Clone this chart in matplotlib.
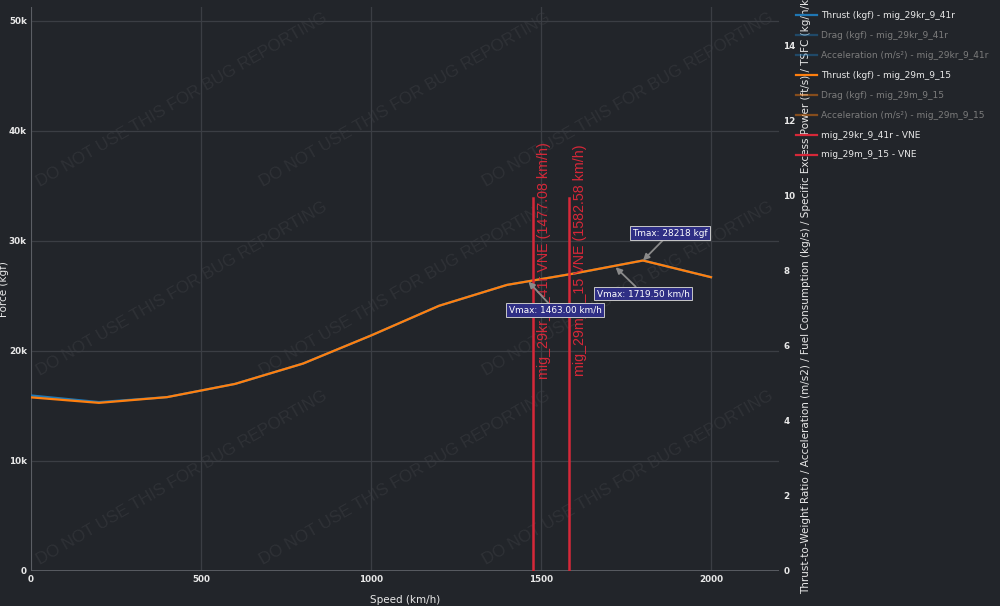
import matplotlib
matplotlib.use("Agg")
import matplotlib.pyplot as plt
from matplotlib.lines import Line2D

# ---------------- data ----------------
speed = [0, 200, 400, 600, 800, 1000, 1200, 1400, 1600, 1800, 2000]
thrust_29kr = [15950, 15350, 15800, 17000, 18850, 21400, 24100, 26000, 27050, 28218, 26700]
thrust_29m = [15780, 15280, 15800, 17000, 18850, 21400, 24100, 26000, 27050, 28218, 26700]

vne_names = ["mig_29kr_9_41r", "mig_29m_9_15"]
vne_speeds = [1477.08, 1582.58]

vmax_speeds = [1463.00, 1719.50]
vmax_thrust = [26300, 27600]
tmax_speed = 1800
tmax_value = 28218

legend_labels = [
    "Thrust (kgf) - mig_29kr_9_41r",
    "Drag (kgf) - mig_29kr_9_41r",
    "Acceleration (m/s²) - mig_29kr_9_41r",
    "Thrust (kgf) - mig_29m_9_15",
    "Drag (kgf) - mig_29m_9_15",
    "Acceleration (m/s²) - mig_29m_9_15",
    "mig_29kr_9_41r - VNE",
    "mig_29m_9_15 - VNE",
]
legend_visible = [True, False, False, True, False, False, True, True]

x_ticks = [0, 500, 1000, 1500, 2000]
y_ticks = [0, 10000, 20000, 30000, 40000, 50000]
y_ticklabels = ["0", "10k", "20k", "30k", "40k", "50k"]
y2_ticks = [0, 2, 4, 6, 8, 10, 12, 14]

# ---------------- style ----------------
BG = "#22252a"
GRID = "#3b3e44"
ZERO = "#62656b"
BLUE = "#1f77b4"
ORANGE = "#ff7f0e"
RED = "#d62839"
TXT = "#e8e8e8"

plt.rcParams['font.family'] = ['DejaVu Sans']

fig = plt.figure(figsize=(10, 6.06), dpi=100, facecolor=BG)
W, H = 1000, 606
L, R, T, B = 31, 779, 6.5, 571
ax = fig.add_axes([L / W, 1 - B / H, (R - L) / W, (B - T) / H], facecolor=BG)
ax2 = ax.twinx()
ax2.set_facecolor("none")

ax.set_xlim(0, 2200)
ax.set_ylim(0, 51300)
ax2.set_ylim(0, 15.05)

for a in (ax, ax2):
    for s in a.spines.values():
        s.set_visible(False)

ax.set_xticks(x_ticks)
ax.set_yticks(y_ticks)
ax.set_yticklabels(y_ticklabels)
ax2.set_yticks(y2_ticks)
ax.grid(True, color=GRID, lw=0.9)
ax.set_axisbelow(True)
ax.axhline(0, color=ZERO, lw=1.2, zorder=1)
ax.axvline(0, color=ZERO, lw=1.2, zorder=1)

tick_kw = dict(length=0, labelsize=6.3, labelcolor=TXT, pad=3)
ax.tick_params(axis='both', **tick_kw)
ax2.tick_params(axis='y', **tick_kw)
for lab in ax.get_xticklabels() + ax.get_yticklabels() + ax2.get_yticklabels():
    lab.set_fontweight('bold')

# axis titles
ax.set_xlabel("Speed (km/h)", color=TXT, fontsize=7.5)
ax.xaxis.label.set_va('center')
ax.xaxis.set_label_coords(0.5, (B - 600) / (B - T))
ax.set_ylabel("Force (kgf)", color=TXT, fontsize=7.5)
ax.yaxis.label.set_rotation_mode('default')
ax.yaxis.label.set_va('center')
ax.yaxis.set_label_coords((4 - L) / (R - L), 0.5)
ax2.set_ylabel("Thrust-to-Weight Ratio / Acceleration (m/s2) / Fuel Consumption (kg/s) / "
               "Specific Excess Power (ft/s) / TSFC (kg/h/kgf)", color=TXT, fontsize=7.5)
ax2.yaxis.label.set_rotation_mode('default')
ax2.yaxis.label.set_va('center')
ax2.yaxis.label.set_rotation(90)
ax2.yaxis.set_label_coords((806 - L) / (R - L), 0.5)

# watermark
for fx in (0.202, 0.5, 0.798):
    for fy in (0.165, 0.499, 0.834):
        ax.text(fx, fy, "DO NOT USE THIS FOR BUG REPORTING", transform=ax.transAxes,
                rotation=30, ha='center', va='center', fontsize=12.2,
                family='Liberation Sans', color='white', alpha=0.06, zorder=0)

# thrust lines
ax.plot(speed, thrust_29kr, color=BLUE, lw=1.6, zorder=3)
ax.plot(speed, thrust_29m, color=ORANGE, lw=1.6, zorder=4)

# VNE lines
for name, v in zip(vne_names, vne_speeds):
    ax.plot([v, v], [0, tmax_value * 1.2], color=RED, lw=1.8, zorder=5)
    ax.text(v + 32, tmax_value, f"{name} VNE ({v:.2f} km/h)", rotation=90,
            ha='center', va='center', color=RED, fontsize=10.3,
            family='Liberation Sans', zorder=5)

# annotations
box = dict(boxstyle='square,pad=0.25', fc='#2f2f85', ec='#c8c8c8', lw=0.7)
arrow = dict(arrowstyle='-|>', color='#8a8a8a', lw=1.3, mutation_scale=9, shrinkA=0, shrinkB=0)
ann_kw = dict(color='white', fontsize=6.4, ha='center', va='center', bbox=box,
              arrowprops=arrow, zorder=7)
ax.annotate(f"Vmax: {vmax_speeds[0]:.2f} km/h", xy=(vmax_speeds[0], vmax_thrust[0]),
            xytext=(1541, 23700), **ann_kw)
ax.annotate(f"Vmax: {vmax_speeds[1]:.2f} km/h", xy=(vmax_speeds[1], vmax_thrust[1]),
            xytext=(1800, 25200), **ann_kw)
ax.annotate(f"Tmax: {tmax_value} kgf", xy=(tmax_speed, tmax_value),
            xytext=(1879, 30700), **ann_kw)

# legend (manual, plotly style)
leg_colors = [BLUE, BLUE, BLUE, ORANGE, ORANGE, ORANGE, RED, RED]
for i, (lab, col, vis) in enumerate(zip(legend_labels, leg_colors, legend_visible)):
    yy = 1 - (15 + 20 * i) / H
    fig.add_artist(Line2D([796 / W, 817 / W], [yy, yy], transform=fig.transFigure,
                          color=col, lw=1.6, alpha=1.0 if vis else 0.45, zorder=10))
    fig.text(821 / W, yy, lab, color=TXT if vis else '#7c7c7c', fontsize=6.5,
             va='center', ha='left', zorder=10)

fig.savefig("out.png", dpi=100, facecolor=BG)
